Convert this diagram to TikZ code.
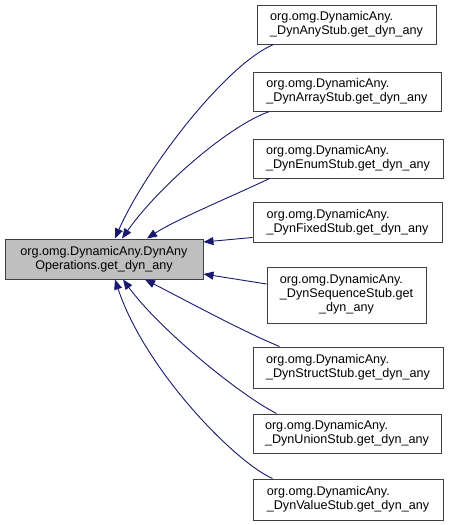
\documentclass[tikz,border=0pt]{standalone}
\usepackage{fontspec}
\setmainfont{Liberation Sans}
\usetikzlibrary{arrows.meta}
\definecolor{edgeblue}{RGB}{25,25,112}
\definecolor{boxgray}{RGB}{191,191,191}
\definecolor{bordergray}{RGB}{64,64,64}
\begin{document}
\begin{tikzpicture}[x=1pt,y=-1pt,
  box/.style={draw=bordergray, line width=1pt, fill=white, rectangle, inner sep=0pt,
    align=left, font=\fontsize{12.6}{14}\selectfont},
  mainbox/.style={box, fill=boxgray, align=center},
  edge/.style={draw=edgeblue, line width=0.9pt, -{Triangle[length=10pt,width=8pt]}, edgeblue}]
\useasboundingbox (0,0) rectangle (448,525);
\node[mainbox, minimum width=198pt, minimum height=40pt] (main) at (104,259) {org.omg.DynamicAny.DynAny\\Operations.get\_dyn\_any};
\node[box, minimum width=179pt, minimum height=39pt] (b1) at (346.5,24.5) {org.omg.DynamicAny.\\\_DynAnyStub.get\_dyn\_any};
\node[box, minimum width=188pt, minimum height=39pt] (b2) at (347,91.5) {org.omg.DynamicAny.\\\_DynArrayStub.get\_dyn\_any};
\node[box, minimum width=190pt, minimum height=39pt] (b3) at (348,158.5) {org.omg.DynamicAny.\\\_DynEnumStub.get\_dyn\_any};
\node[box, minimum width=189pt, minimum height=40pt] (b4) at (347.5,222) {org.omg.DynamicAny.\\\_DynFixedStub.get\_dyn\_any};
\node[box, minimum width=159pt, minimum height=56pt] (b5) at (346.5,295) {\begin{tabular}{@{}l@{}}org.omg.DynamicAny.\\\_DynSequenceStub.get\\\multicolumn{1}{@{}c@{}}{\_dyn\_any}\end{tabular}};
\node[box, minimum width=190pt, minimum height=41pt] (b6) at (348,367.5) {org.omg.DynamicAny.\\\_DynStructStub.get\_dyn\_any};
\node[box, minimum width=188pt, minimum height=39pt] (b7) at (347,433.5) {org.omg.DynamicAny.\\\_DynUnionStub.get\_dyn\_any};
\node[box, minimum width=190pt, minimum height=41pt] (b8) at (348,499.5) {org.omg.DynamicAny.\\\_DynValueStub.get\_dyn\_any};

\draw[edge] ([xshift=17pt]b1.south west) .. controls (225,65) and (145,170) .. ([xshift=11pt]main.north);
\draw[edge] ([xshift=17pt]b2.south west) .. controls (230,125) and (160,185) .. ([xshift=18pt]main.north);
\draw[edge] ([xshift=17pt]b3.south west) .. controls (235,195) and (175,220) .. ([xshift=43pt]main.north);
\draw[edge] ([yshift=5pt]b4.south west) -- ([yshift=17pt]main.east);
\draw[edge] ([yshift=11pt]b5.west) -- ([yshift=-15pt]main.east);
\draw[edge] ([xshift=27pt]b6.north west) .. controls (240,330) and (185,300) .. ([xshift=41pt]main.south);
\draw[edge] ([xshift=24pt]b7.north west) .. controls (240,395) and (160,330) .. ([xshift=19pt]main.south);
\draw[edge] ([xshift=20pt]b8.north west) .. controls (235,462) and (145,370) .. ([xshift=11pt]main.south);
\end{tikzpicture}
\end{document}
